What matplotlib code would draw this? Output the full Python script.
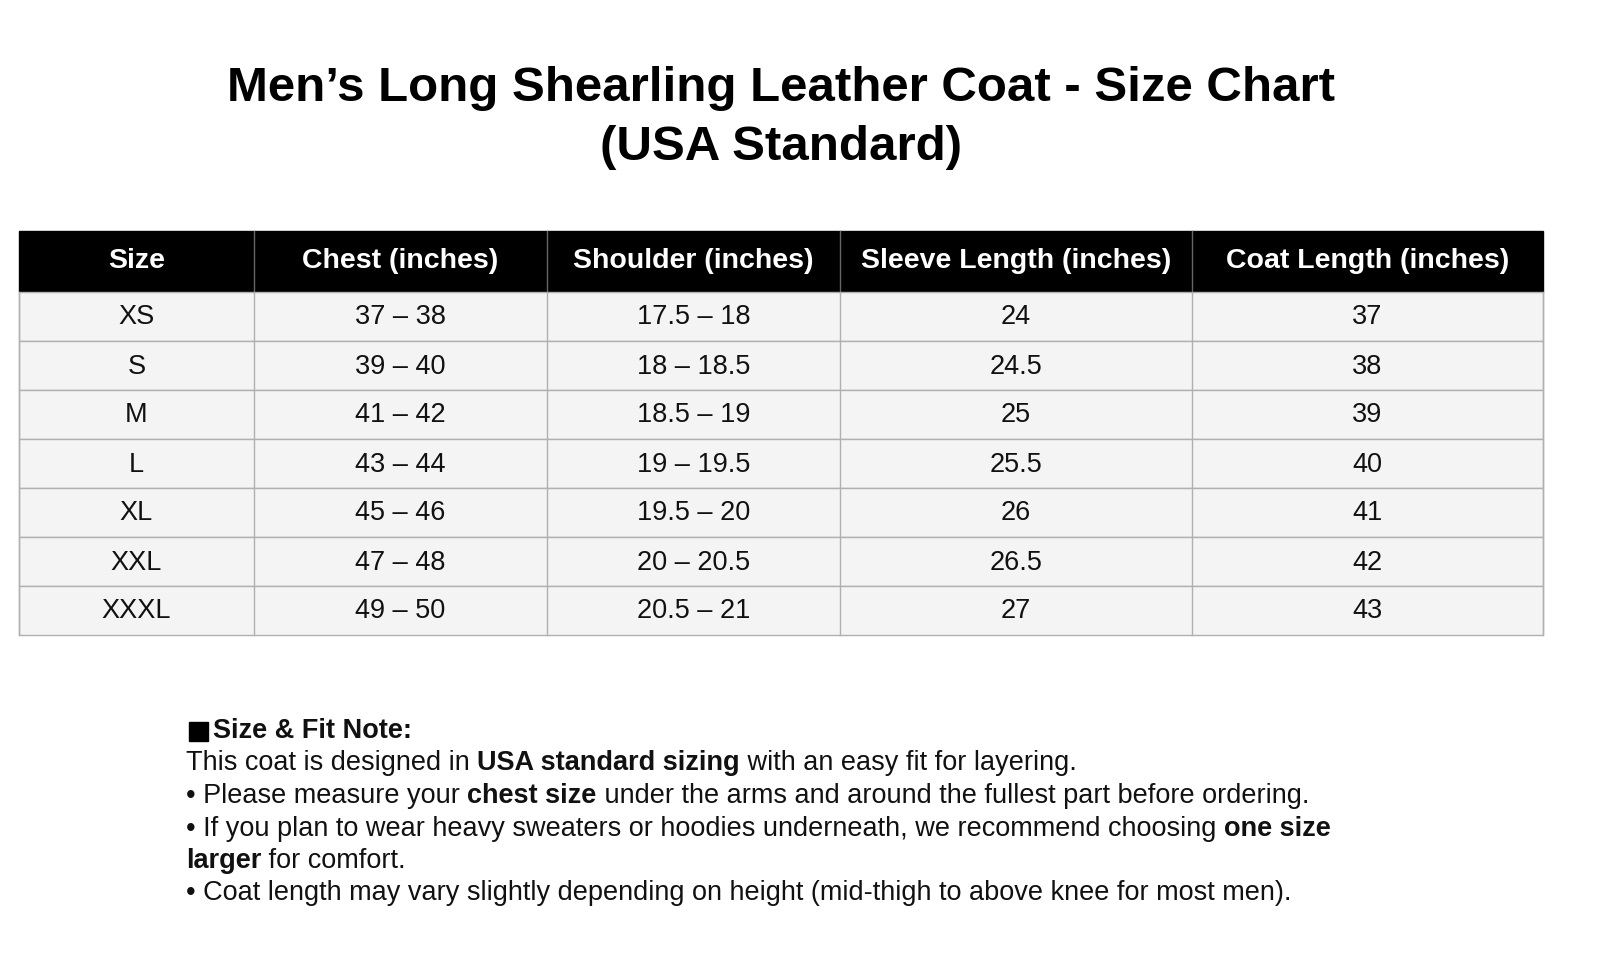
import matplotlib.pyplot as plt
from matplotlib.patches import Rectangle

plt.rcParams['font.family'] = ['Liberation Sans', 'DejaVu Sans']

title = "Men\u2019s Long Shearling Leather Coat - Size Chart\n(USA Standard)"
headers = ["Size", "Chest (inches)", "Shoulder (inches)", "Sleeve Length (inches)", "Coat Length (inches)"]
sizes = ["XS", "S", "M", "L", "XL", "XXL", "XXXL"]
chest = ["37 \u2013 38", "39 \u2013 40", "41 \u2013 42", "43 \u2013 44", "45 \u2013 46", "47 \u2013 48", "49 \u2013 50"]
shoulder = ["17.5 \u2013 18", "18 \u2013 18.5", "18.5 \u2013 19", "19 \u2013 19.5", "19.5 \u2013 20", "20 \u2013 20.5", "20.5 \u2013 21"]
sleeve = ["24", "24.5", "25", "25.5", "26", "26.5", "27"]
coat = ["37", "38", "39", "40", "41", "42", "43"]

# notes: list of lines, each a list of (text, bold)
notes = [
    [("Size & Fit Note:", True)],
    [("This coat is designed in ", False), ("USA standard sizing", True), (" with an easy fit for layering.", False)],
    [("\u2022 Please measure your ", False), ("chest size", True), (" under the arms and around the fullest part before ordering.", False)],
    [("\u2022 If you plan to wear heavy sweaters or hoodies underneath, we recommend choosing ", False), ("one size", True)],
    [("larger", True), (" for comfort.", False)],
    [("\u2022 Coat length may vary slightly depending on height (mid-thigh to above knee for most men).", False)],
]

W, H = 1600, 956
fig = plt.figure(figsize=(16, 9.56), dpi=100)
ax = fig.add_axes([0, 0, 1, 1])
ax.set_xlim(0, W)
ax.set_ylim(H, 0)
ax.axis('off')

ax.text(781, 118, title, ha='center', va='center', fontsize=35.5, fontweight='bold',
        linespacing=1.42)

col_edges = [19, 254, 547, 840, 1192, 1543]
head_top, head_bot, row_h = 231, 292, 49
columns = [sizes, chest, shoulder, sleeve, coat]

ax.add_patch(Rectangle((col_edges[0], head_top), col_edges[-1] - col_edges[0],
                       head_bot - head_top, color='black', zorder=1))
for i, h in enumerate(headers):
    xc = (col_edges[i] + col_edges[i + 1]) / 2
    ax.text(xc, (head_top + head_bot) / 2, h, ha='center', va='center',
            color='white', fontsize=20.5, fontweight='bold', zorder=3)
    if i > 0:
        ax.plot([col_edges[i]] * 2, [head_top, head_bot], color='#666', lw=1, zorder=2)

n = len(sizes)
for r in range(n):
    y0 = head_bot + r * row_h
    ax.add_patch(Rectangle((col_edges[0], y0), col_edges[-1] - col_edges[0], row_h,
                           facecolor='#f4f4f4', edgecolor='#b0b0b0', lw=1, zorder=1))
    for c, col in enumerate(columns):
        xc = (col_edges[c] + col_edges[c + 1]) / 2
        ax.text(xc, y0 + row_h / 2 + 1, col[r], ha='center', va='center',
                fontsize=19.5, color='#111', zorder=3)
for e in col_edges:
    ax.plot([e, e], [head_bot, head_bot + n * row_h], color='#b0b0b0', lw=1, zorder=2)

# black square marker before the note heading
ax.add_patch(Rectangle((189, 722), 19, 19, color='black'))

renderer = fig.canvas.get_renderer()
line_y = [731, 763, 796, 829, 861, 893]
for k, (y, parts) in enumerate(zip(line_y, notes)):
    x = 213 if k == 0 else 186
    for txt, bold in parts:
        t = ax.text(x, y, txt, ha='left', va='center', fontsize=19.5,
                    fontweight='bold' if bold else 'normal', color='#111')
        bb = t.get_window_extent(renderer)
        x += bb.width * W / fig.bbox.width

fig.savefig('out.png', dpi=100, facecolor='white')
